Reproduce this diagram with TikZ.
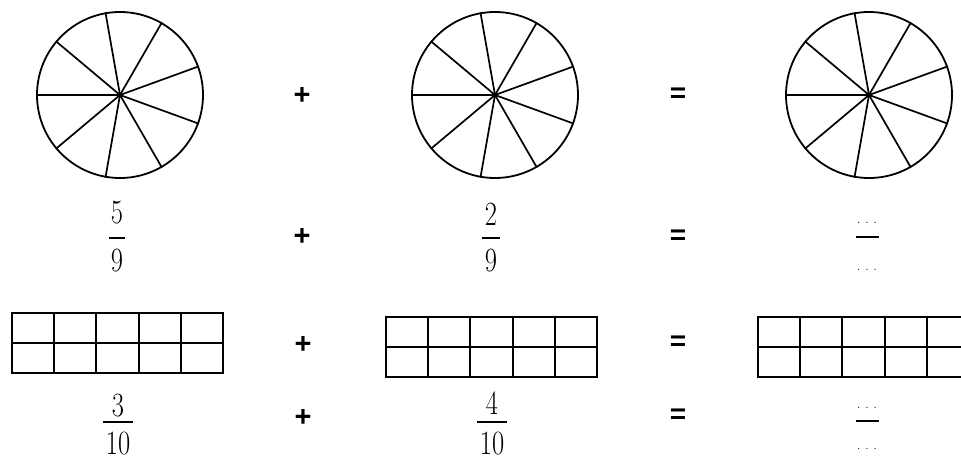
\documentclass[tikz,border=0pt]{standalone}
\usepackage{fontspec}
\newfontfamily\opfont{Liberation Sans}
\usetikzlibrary{calc}
\newcommand\dg[1]{\scalebox{0.78}[1]{#1}}
\newcommand\tdots{.\hspace{4.4pt}.\hspace{4.4pt}.}
\begin{document}
\begin{tikzpicture}[x=1pt,y=-1pt]
\tikzset{
  pie/.style={circle, draw, minimum size=166pt, inner sep=0pt, line width=1.8pt},
  spoke/.style={line width=1.7pt},
  hub/.style={circle, fill, inner sep=0pt, minimum size=5pt},
  opsign/.style={font=\opfont\bfseries\fontsize{29}{29}\selectfont, inner sep=0pt},
  eqsign/.style={font=\opfont\bfseries\fontsize{28}{28}\selectfont, inner sep=0pt},
  digit/.style={font=\fontsize{34}{34}\selectfont, inner sep=0pt},
  dotsym/.style={font=\fontsize{15}{15}\selectfont, inner sep=0pt},
  fbar/.style={fill, inner sep=0pt, minimum height=2pt},
  gridbox/.style={draw, line width=1.8pt, minimum width=211pt, minimum height=60pt, inner sep=0pt},
  gline/.style={line width=1.8pt}
}
\useasboundingbox (0,0) rectangle (961,464);
\clip (0,0) rectangle (961,464);

% circles
\foreach \n/\x in {c1/120, c2/495, c3/869}{
  \node[pie] (\n) at (\x,95) {};
  \node[hub] (\n h) at (\x,95) {};
  \foreach \a in {180,140,100,60,20,-20,-60,-100,-140}
    \draw[spoke] (\n h.center) -- (\n.\a);
}

% operators
\node[opsign] (p1) at (302,96) {+};
\node[opsign] (p2) at (302,237) {+};
\node[opsign] (p3) at (303,345) {+};
\node[opsign] (p4) at (303,418) {+};
\node[eqsign] (e1) at (678,95) {=};
\node[eqsign] (e2) at (678,237) {=};
\node[eqsign] (e3) at (678,343) {=};
\node[eqsign] (e4) at (678,416) {=};

% fractions row 1
\node[digit] (n1) at (117,213) {\dg{5}};
\node[fbar, minimum width=16pt] (b1) at (117,238) {};
\node[digit] (d1) at (117,261) {\dg{9}};
\node[digit] (n2) at (491,214) {\dg{2}};
\node[fbar, minimum width=18pt] (b2) at (491,238) {};
\node[digit] (d2) at (491,261) {\dg{9}};
\node[dotsym] (n3) at (867,223) {\tdots};
\node[fbar, minimum width=23pt] (b3) at (867,237) {};
\node[dotsym] (d3) at (867,270) {\tdots};

% grids
\node[gridbox] (g1) at (117.5,343) {};
\node[gridbox] (g2) at (491.5,347) {};
\node[gridbox] (g3) at (863.5,347) {};
\foreach \n in {g1,g2,g3}{
  \draw[gline] (\n.west) -- (\n.east);
  \foreach \i in {1,2,3,4}
    \draw[gline] ($(\n.north west)!\i/5!(\n.north east)$) -- ($(\n.south west)!\i/5!(\n.south east)$);
}

% fractions row 2
\node[digit] (n4) at (118,406) {\dg{3}};
\node[fbar, minimum width=30pt] (b4) at (118,422) {};
\node[digit] (d4) at (118,444) {\dg{10}};
\node[digit] (n5) at (492,403) {\dg{4}};
\node[fbar, minimum width=30pt] (b5) at (492,422) {};
\node[digit] (d5) at (492,444) {\dg{10}};
\node[dotsym] (n6) at (867,408) {\tdots};
\node[fbar, minimum width=23pt] (b6) at (867,421) {};
\node[dotsym] (d6) at (867,449) {\tdots};
\end{tikzpicture}
\end{document}
